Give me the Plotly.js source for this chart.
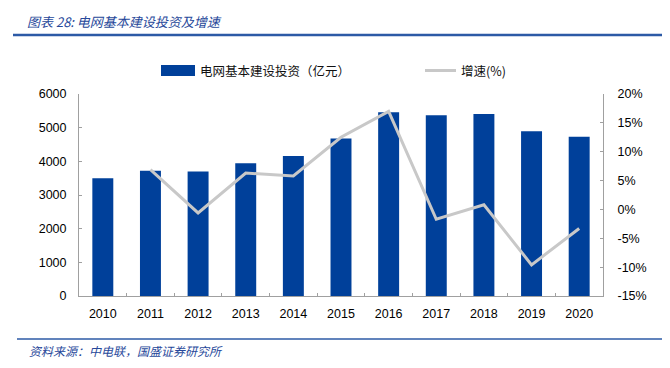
<!DOCTYPE html>
<html>
<head>
<meta charset="utf-8">
<script src="https://cdn.plot.ly/plotly-3.0.1.min.js"></script>
<style>html,body{margin:0;padding:0;background:#fff;}#chart{width:670px;height:368px;}</style>
</head>
<body>
<div id="chart"></div>
<script>
const years = ['2010','2011','2012','2013','2014','2015','2016','2017','2018','2019','2020'];
const investment = [3500, 3720, 3700, 3940, 4155, 4680, 5460, 5370, 5405, 4890, 4730];
const growthYears = ['2011','2012','2013','2014','2015','2016','2017','2018','2019','2020'];
const growth = [6.9, -0.6, 6.3, 5.8, 12.5, 17.0, -1.7, 0.8, -9.6, -3.3];
const yTicks = [0, 1000, 2000, 3000, 4000, 5000, 6000];
const y2Ticks = [-15, -10, -5, 0, 5, 10, 15, 20];
const y2TickText = ['-15%', '-10%', '-5%', '0%', '5%', '10%', '15%', '20%'];
const barName = '电网基本建设投资（亿元）';
const lineName = '增速(%)';
const titleText = '图表 28: 电网基本建设投资及增速';
const sourceText = '资料来源：中电联，国盛证券研究所';

const W = 670, H = 368;
const M = {l: 79, r: 67, t: 94, b: 72};
const pw = W - M.l - M.r, ph = H - M.t - M.b;
const px = x => (x - M.l) / pw;
const py = y => (H - M.b - y) / ph;

const barColor = '#00409a';
const lineColor = '#c8c8c8';
const axisColor = '#a0a0a0';
const blue = '#2c5aa6';
const cjk = '"Noto Sans CJK SC", "Noto Sans", sans-serif';
const num = '"Liberation Sans", "DejaVu Sans", sans-serif';

const data = [
  {type: 'bar', x: years, y: investment, name: barName, marker: {color: barColor}, yaxis: 'y'},
  {type: 'scatter', mode: 'lines', x: growthYears, y: growth, name: lineName, yaxis: 'y2',
   line: {color: lineColor, width: 3}}
];

const layout = {
  width: W, height: H,
  margin: M,
  paper_bgcolor: '#fff', plot_bgcolor: '#fff',
  showlegend: false,
  bargap: 0.56,
  font: {family: num, size: 12.5, color: '#000'},
  xaxis: {
    type: 'category', showline: true, linecolor: axisColor, linewidth: 1,
    ticks: 'inside', tickson: 'boundaries', ticklen: 3, tickcolor: axisColor,
    showgrid: false, zeroline: false, ticklabelstandoff: 6,
    tickfont: {family: num, size: 12.5, color: '#000'}
  },
  yaxis: {
    range: [0, 6000], tickvals: yTicks, showline: true, linecolor: axisColor, linewidth: 1,
    ticks: 'inside', ticklen: 3, tickcolor: axisColor, showgrid: false, zeroline: false,
    ticklabelstandoff: 9, tickfont: {family: num, size: 12.5, color: '#000'}
  },
  yaxis2: {
    overlaying: 'y', side: 'right', range: [-15, 20], tickvals: y2Ticks, ticktext: y2TickText,
    showline: true, linecolor: axisColor, linewidth: 1, ticks: 'inside', ticklen: 3, tickcolor: axisColor,
    showgrid: false, zeroline: false, ticklabelstandoff: 11,
    tickfont: {family: num, size: 12.5, color: '#000'}
  },
  shapes: [
    {type: 'line', xref: 'paper', yref: 'paper', x0: px(13), x1: px(662), y0: py(35), y1: py(35),
     line: {color: blue, width: 2.5}},
    {type: 'line', xref: 'paper', yref: 'paper', x0: px(17), x1: px(662), y0: py(339), y1: py(339),
     line: {color: blue, width: 1.5}},
    {type: 'rect', xref: 'paper', yref: 'paper', x0: px(161), x1: px(195), y0: py(65), y1: py(76),
     fillcolor: barColor, line: {width: 0}},
    {type: 'line', xref: 'paper', yref: 'paper', x0: px(425), x1: px(456), y0: py(70.5), y1: py(70.5),
     line: {color: lineColor, width: 3}}
  ],
  annotations: [
    {xref: 'paper', yref: 'paper', x: px(25), y: py(22), xanchor: 'left', yanchor: 'middle', showarrow: false,
     text: '<i>' + titleText + '</i>', font: {family: cjk, size: 13, color: '#27489a'}},
    {xref: 'paper', yref: 'paper', x: px(198), y: py(70.5), xanchor: 'left', yanchor: 'middle', showarrow: false,
     text: barName, font: {family: cjk, size: 12.5, color: '#111'}},
    {xref: 'paper', yref: 'paper', x: px(459), y: py(70.5), xanchor: 'left', yanchor: 'middle', showarrow: false,
     text: lineName, font: {family: cjk, size: 12.5, color: '#111'}},
    {xref: 'paper', yref: 'paper', x: px(27), y: py(350), xanchor: 'left', yanchor: 'middle', showarrow: false,
     text: '<i>' + sourceText + '</i>', font: {family: cjk, size: 12, color: '#27489a'}}
  ]
};

Plotly.newPlot('chart', data, layout, {displayModeBar: false, staticPlot: true});
</script>
</body>
</html>
